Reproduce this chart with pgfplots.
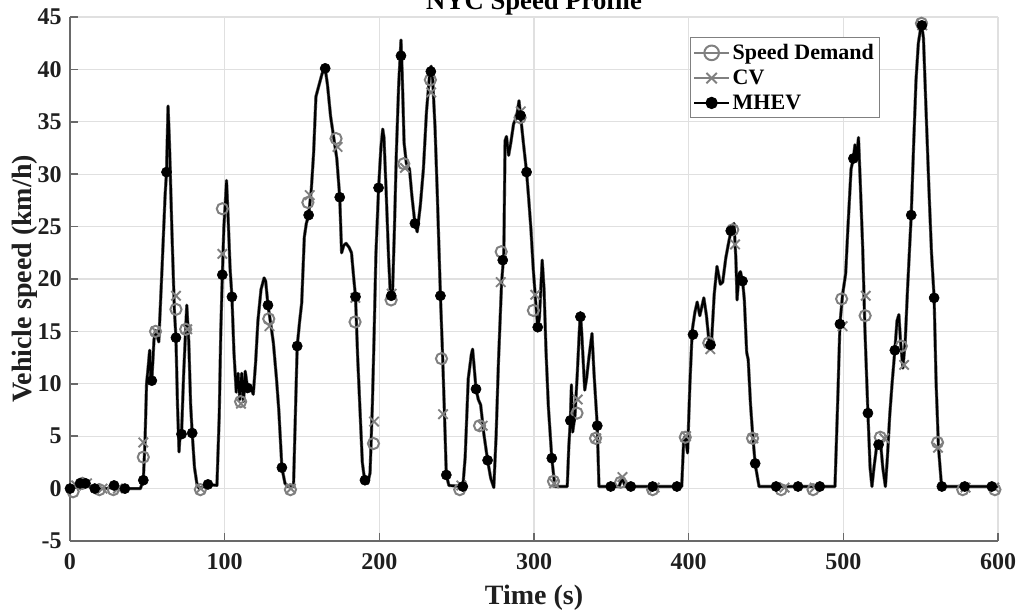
\documentclass[border=0pt]{standalone}
\usepackage{fontspec}
\setmainfont{Liberation Serif}
\usepackage{pgfplots}
\usepackage{pgfplotstable}
\pgfplotsset{compat=1.18}
\usetikzlibrary{calc}
\definecolor{sdgray}{RGB}{128,128,128}
\definecolor{gridgray}{RGB}{224,224,224}
\definecolor{axgray}{RGB}{105,105,105}

\pgfplotstableread{
t v
0 0
2 0.1
4 0.3
6 0.5
8 0.5
10 0.5
12 0.3
14 0.1
16 0
20 0
24 0
27 0.2
29 0.3
31 0.1
34 0
45.5 0
47.4 0.8
48.5 4.5
49.5 10
50.5 11.5
51.5 13.2
52.2 10.5
52.9 10.3
54.3 14.2
55.3 15.1
56.5 14.5
57.4 14
59.5 21
61.5 28
62.4 30.2
63.4 36.5
64.3 33
66 24
67.5 17
68.5 14.4
69.5 8
70.5 3.5
71.3 5.5
72.1 5.2
73.5 11
75.5 17.5
76.8 14
78 8
79 5.3
80.5 2
82 0.5
83.5 0
89.2 0.4
95 0.3
96.5 7
97.5 15
98.5 20.4
99.5 25
100.5 27.5
101.2 29.4
102.2 26
103.5 21
104.7 18.3
106 13
107.5 9.2
108.7 11
109.8 8.5
111 11
112.2 8.3
113.3 11.2
114.8 9.6
116.5 9.8
118.5 9
120 12
121.5 16
123.5 19
125.5 20.1
126.5 19.8
128 17.5
130 15.5
131.5 13.9
133.5 10.5
135 7.5
137 2
139 0.5
141 0.2
144.5 0.2
146.9 13.6
148.5 16
149.8 17.7
151.5 24
152.8 25.3
154.3 26.1
156 28.5
157.5 32
159 37.4
161 38.5
163 39.6
165 40.1
166.5 38.5
168.5 35.5
170.5 33.5
172.5 31.5
174.4 27.8
175.6 22.5
177 23.2
178.5 23.4
180.5 23
182 22.5
183.5 20
184.6 18.3
186 12.5
187.5 7.5
189 2.5
190.5 0.8
192.5 0.5
194 1.5
195.5 8
196.5 13.9
197.8 22.4
199.5 28.6
201 32.5
202.2 34.3
203 33.5
204.5 28
206 22
207.2 18.3
208.5 18.5
209.8 25
211 32
212.5 38.5
214 42.8
214.8 39.5
216 33
217.5 31
219.5 30.5
221 28
223 25.3
224.5 24.5
226.5 27
228.5 30.5
230.5 36
232.5 39.5
233.5 40.3
234.5 39
236 34.5
237.5 28
239.5 18.4
241 12.3
242.5 5.3
243.3 1.3
245 0.3
254 0.2
255.5 3
257.5 10.5
259.5 12.8
260.3 13.3
261.2 11.8
262.5 9.5
264 8.5
265.5 8
267.5 5.3
270 2.7
272 1
274 0.1
275.5 5
277 12
279 19.5
280.5 22.5
281.3 33.2
282.2 33.6
283.6 31.8
285 33
286.8 34.8
288.8 35.5
290.3 37
291.3 35.6
293.2 32.9
295.2 30.2
296.5 27.8
298 24.8
299.5 21
301 18
302.4 15.4
303.5 16.3
305.3 21.8
306.5 19
307.8 13
309.3 7.8
311.5 2.9
313.5 0.2
321.5 0.2
322.5 4
323.5 6.5
324.2 9.9
325 5.4
326.5 7
328 11
329.3 15
330 16.8
330.8 15
332.8 9.4
334 10.5
335.5 12.5
337.5 14.8
338.8 11
340.9 6
342 0.2
355 0.2
357 1.0
359 0.2
395.5 0.2
396.8 4.7
397.8 5
399.3 3.4
400.8 10
402.3 15.1
404 16.8
405.5 17.8
407.2 16.5
409.8 18.2
411.5 16.5
413.5 13.5
414.8 14
416.5 18.5
418.3 21.2
420.5 19.5
422 19.7
424 22
425.5 23.2
427.5 24.7
429.3 25.3
430.5 22
431.3 18
432.5 20.5
433.5 20.7
435 19.6
436 18
437.5 13
438.5 12.3
440 8
441.3 5.3
443 2.35
445.5 0.2
494.6 0.2
496.5 9
497.8 15.7
499.5 18.5
501.5 20.5
503 25
505 30.5
506.5 31.5
507.5 32.8
508.5 31.5
509.8 33.5
511 29
512.5 23
514 15
515.9 7.2
517.3 2
518.5 0.2
519.8 2
521.5 4
522.8 4.2
524 4.5
525.5 2
527.2 0.2
528.5 3
530 7
531.5 10
533.3 13.2
534.7 16
535.9 16.6
537 14
538.5 11.5
540 14
541.5 19
543.9 26.1
545.5 33
547 39
548.5 42.5
550.5 44.4
551.8 43
553.5 36
555.5 28
557 22.5
558.7 18.2
560 10
561.5 4
563.5 0.2
600 0.2
}\profile

\pgfplotstableread{
t v
2 -0.3
8 0.5
19 -0.1
28 -0.1
47.4 3.0
55.3 15.0
68.5 17.1
74.8 15.2
84.3 -0.1
98.5 26.7
110.3 8.3
128.5 16.2
142.5 -0.1
153.8 27.3
172 33.4
184.3 15.9
196.2 4.3
207.6 18.0
215.8 31.0
233 39.0
240.2 12.4
252 -0.1
264.8 6.0
278.8 22.6
291 35.4
299.6 17.0
312.6 0.7
327.8 7.2
339.8 4.8
356 0.6
376.7 -0.1
397.8 4.9
413 13.9
428.5 24.7
441.3 4.8
459.8 -0.1
480.4 -0.1
498.9 18.1
514.1 16.5
523.9 4.9
537.5 13.6
550.5 44.4
560.9 4.4
577.2 -0.1
598 -0.1
}\sdmarks

\pgfplotstableread{
t v
4 0.3
11 0.5
21 0
31 0
47.4 4.4
55.5 15.0
68.5 18.4
75.8 15.2
84.5 0
98.5 22.4
110.5 8.1
129 15.5
142.8 0
155 28.0
173 32.6
184.5 18.2
196.6 6.4
208 18.6
216.5 30.6
233.5 37.8
241.2 7.1
253 0.3
266.8 6.0
278.5 19.7
291.5 36.0
300.8 18.5
313 0.5
328.3 8.5
340.3 4.8
357.2 1.1
378 0.1
398.3 5.0
414 13.3
430 23.3
441.8 4.8
462 0.1
481.5 0.1
499.5 15.5
514.5 18.4
526.5 4.8
539.3 11.8
551 44.2
561.2 3.9
579 0.1
597.5 0.1
}\cvmarks

\pgfplotstableread{
t v
0 0
6.5 0.5
10 0.5
16 0
28.5 0.3
35.5 0
47.4 0.8
52.9 10.3
62.4 30.2
68.5 14.4
72.1 5.2
79 5.3
89.2 0.4
98.5 20.4
104.7 18.3
114.8 9.6
128 17.5
137 2
146.9 13.6
154.3 26.1
165 40.1
174.4 27.8
184.6 18.3
190.7 0.8
199.5 28.7
207.7 18.4
214 41.3
223 25.3
233.3 39.8
239.5 18.4
243.3 1.3
254 0.2
262.5 9.5
270 2.7
279.8 21.8
291.3 35.6
295.2 30.2
302.4 15.4
311.5 2.9
323.5 6.5
330 16.4
340.9 6.0
349.6 0.2
362.6 0.2
376.7 0.2
392.4 0.2
402.8 14.7
414.1 13.7
427.2 24.6
434.8 19.8
443 2.4
456.5 0.2
470.7 0.2
484.8 0.2
497.8 15.7
506.5 31.5
515.9 7.2
522.8 4.2
533.3 13.2
543.9 26.1
550.8 44.2
558.7 18.2
563.7 0.2
578.5 0.2
596 0.2
}\mhevmarks

\begin{document}
\begin{tikzpicture}
\begin{axis}[
  scale only axis,
  width=696pt, height=393pt,
  xmin=0, xmax=600, ymin=-5, ymax=45,
  xtick={0,100,...,600},
  ytick={-5,0,...,45},
  axis x line*=bottom, axis y line*=left,
  axis line style={draw=axgray, line width=1.1pt},
  tick style={draw=axgray, line width=1.1pt},
  major tick length=6pt,
  tick align=inside,
  grid=major,
  major grid style={draw=gridgray, line width=0.8pt},
  /pgf/number format/assume math mode=true,
  ticklabel style={font=\bfseries\fontsize{18}{20}\selectfont, text=black!88},
  xticklabel style={anchor=base, inner sep=0pt, yshift=-21.75pt},
  yticklabel style={anchor=east, inner sep=0pt, xshift=-6pt},
  xlabel={Time (s)},
  ylabel={Vehicle speed (km/h)},
  every axis x label/.style={at={(axis description cs:0.5,0)}, anchor=base, yshift=-48pt,
    font=\bfseries\fontsize{21}{24}\selectfont, text=black!88},
  every axis y label/.style={at={(axis description cs:0,0.5)}, xshift=-28.5pt, rotate=90, anchor=base,
    font=\bfseries\fontsize{21}{24}\selectfont, text=black!88},
  title={NYC Speed Profile},
  every axis title shift=0pt,
  title style={at={(axis description cs:0.5,1)}, anchor=base, yshift=5.25pt,
    font=\bfseries\fontsize{20}{24}\selectfont},
  legend style={at={(axis description cs:0.668,0.962)}, anchor=north west,
    draw=sdgray, line width=1pt, fill=white,
    font=\bfseries\fontsize{16.5}{18}\selectfont,
    inner xsep=2pt, inner ysep=3pt, row sep=2.25pt},
  legend cell align=left,
  legend image code/.code={\draw[mark repeat=2,mark phase=2] plot coordinates {(0pt,0pt) (13pt,0pt) (26pt,0pt)};},
  clip=false,
]
\coordinate (SW) at (rel axis cs:0,0);
\coordinate (NE) at (rel axis cs:1,1);
\addlegendimage{sdgray, line width=1.6pt, mark=o, mark size=5.5pt, mark options={line width=1.5pt}}
\addlegendentry{Speed Demand}
\addlegendimage{sdgray, line width=1.6pt, mark=x, mark size=5.5pt, mark options={line width=1.5pt}}
\addlegendentry{CV}
\addlegendimage{black, line width=1.6pt, mark=*, mark size=3.8pt}
\addlegendentry{MHEV}

\addplot[sdgray, line width=2.3pt, line join=round, forget plot] table[x=t,y=v]{\profile};
\addplot[only marks, sdgray, mark=o, mark size=4.2pt, mark options={line width=1.5pt}, forget plot] table[x=t,y=v]{\sdmarks};
\addplot[sdgray, line width=2.3pt, line join=round, forget plot] table[x=t,y=v]{\profile};
\addplot[only marks, sdgray, mark=x, mark size=5pt, mark options={line width=1.4pt}, forget plot] table[x=t,y=v]{\cvmarks};
\addplot[black, line width=1.7pt, line join=round, forget plot] table[x=t,y=v]{\profile};
\addplot[only marks, black, mark=*, mark size=3.8pt, forget plot] table[x=t,y=v]{\mhevmarks};
\end{axis}
\pgfresetboundingbox
\path[use as bounding box] ($(SW)+(-52.5pt,-53.25pt)$) rectangle ($(NE)+(26.25pt,12.75pt)$);
\end{tikzpicture}
\end{document}
